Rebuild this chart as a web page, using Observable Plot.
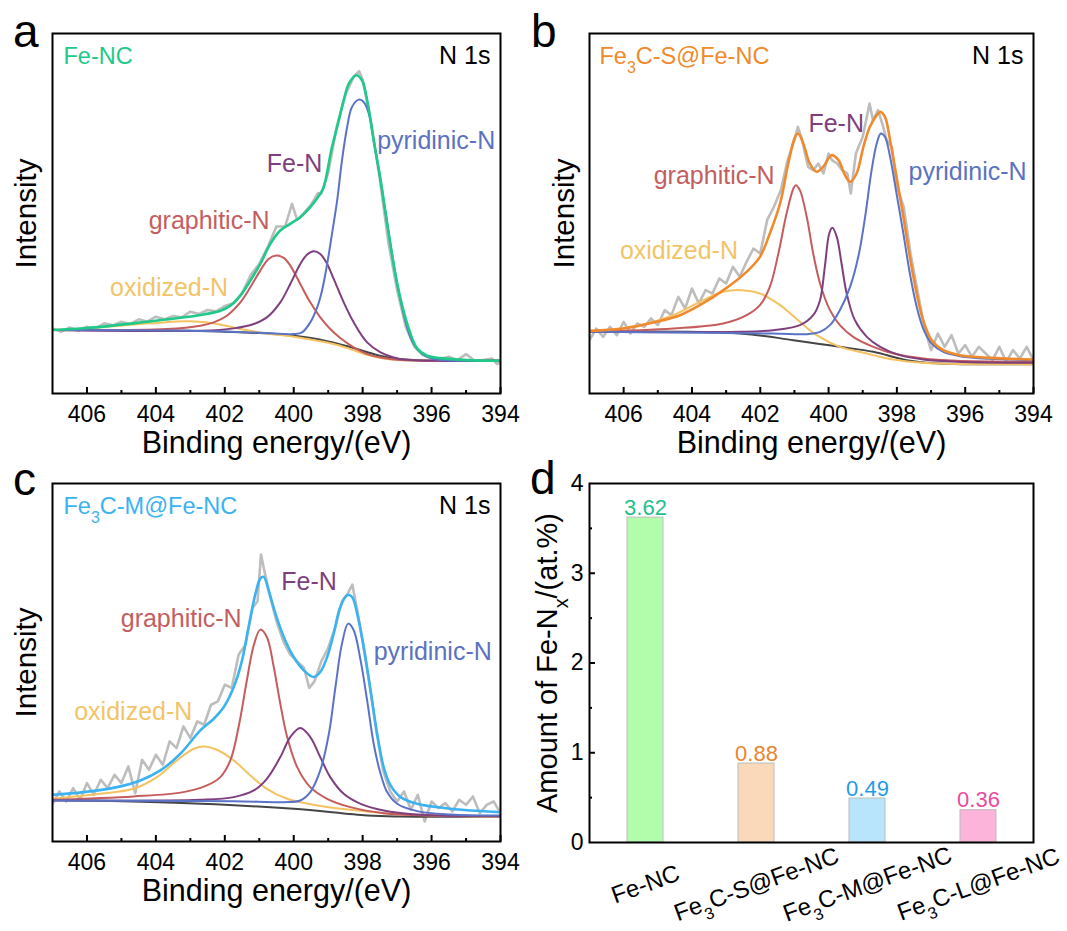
<!DOCTYPE html>
<html><head><meta charset="utf-8">
<script src="https://cdn.jsdelivr.net/npm/d3@7"></script>
<script src="https://cdn.jsdelivr.net/npm/@observablehq/plot@0.6"></script>
<style>
body{margin:0;background:#fff;}
#fig{position:relative;width:1067px;height:931px;overflow:hidden;font-family:"Liberation Sans",Arial,sans-serif;}
.panel{position:absolute;}
.letter{position:absolute;font-size:46px;line-height:46px;color:#000;}
</style></head><body>
<div id="fig"></div>
<script>
// ---------- data (binding energy eV, intensity a.u.) ----------
const xTicks = [406, 404, 402, 400, 398, 396, 394];
const xMinor = [405, 403, 401, 399, 397, 395];
const peakNames = ["pyridinic-N", "Fe-N", "graphitic-N", "oxidized-N"];
const sampleNames = ["Fe-NC", "Fe₃C-S@Fe-NC", "Fe₃C-M@Fe-NC", "Fe₃C-L@Fe-NC"];
const feNxAmount = [3.62, 0.88, 0.49, 0.36];
const dTicks = [0, 1, 2, 3, 4];

// panel a : Fe-NC
const aRaw = [[407,195],[406.75,185],[406.5,198],[406.25,188],[406,200],[405.75,194],[405.5,210],[405.25,204],[405,215],[404.75,208],[404.5,222],[404.25,215],[404,230],[403.75,222],[403.5,232],[403.25,228],[403,245],[402.75,238],[402.5,250],[402.25,246],[402,262],[401.75,270],[401.5,300],[401.25,355],[401,388],[400.75,440],[400.5,500],[400.25,500],[400.05,568],[399.9,520],[399.75,535],[399.5,565],[399.3,600],[399.2,598],[399,660],[398.75,800],[398.5,895],[398.25,950],[398.1,965],[398,940],[397.75,810],[397.5,640],[397.25,450],[397,310],[396.75,200],[396.5,140],[396.25,115],[396,108],[395.75,103],[395.5,110],[395.25,100],[395,118],[394.75,98],[394.5,100],[394.25,105],[394.1,88],[394,95]];
const aBg = [[407,190],[405,190],[403,188],[402,185],[401,181],[400,173],[399.5,166],[399,156],[398.5,143],[398,128],[397.5,113],[397,104],[396.5,100],[396,99],[394,98]];
const aOx = [[407,190],[405.62,198],[404.16,210],[403.05,216],[402.23,208],[401.55,193],[400.78,180],[400,170],[399.32,158],[398.84,148],[398.36,133],[397.87,116],[397.39,105],[396.9,100],[394,98]];
const aGr = [[407,190],[403.68,193],[402.71,203],[402.32,213],[401.94,233],[401.55,273],[401.26,318],[400.97,368],[400.73,403],[400.5,413],[400.29,406],[400.1,383],[399.81,328],[399.52,273],[399.23,228],[398.94,193],[398.65,166],[398.26,138],[397.87,118],[397.39,106],[396.9,100],[394,98]];
const aFeN = [[407,190],[402.71,188],[401.74,195],[401.16,208],[400.78,228],[400.39,273],[400.1,328],[399.81,388],[399.61,416],[399.42,426],[399.23,418],[399.03,388],[398.84,343],[398.55,273],[398.26,213],[397.87,153],[397.48,123],[397.1,108],[396.71,101],[394,98]];
const aPyr = [[407,190],[403,188],[401,182],[400,178],[399.76,183],[399.52,213],[399.32,258],[399.18,308],[399.03,388],[398.89,478],[398.74,578],[398.6,698],[398.45,798],[398.31,858],[398.11,880],[397.97,873],[397.82,838],[397.68,758],[397.53,668],[397.39,578],[397.24,478],[397.1,388],[396.9,278],[396.71,198],[396.52,148],[396.27,118],[395.94,103],[394.97,98],[394,98]];
const aEnv = [[407,190],[406,196],[404.65,210],[403.68,222],[402.71,235],[402.13,248],[401.84,263],[401.55,293],[401.26,338],[400.97,388],[400.68,448],[400.39,488],[400.1,508],[399.81,528],[399.52,558],[399.23,598],[399.13,618],[398.89,738],[398.74,798],[398.55,878],[398.4,928],[398.18,953],[398.02,938],[397.87,878],[397.68,758],[397.48,640],[397.29,510],[397,330],[396.71,210],[396.42,135],[396.13,113],[395.74,106],[394.97,100],[394,98]];

// panel b : Fe3C-S@Fe-NC
const bRaw = [[407,160],[406.8,195],[406.6,170],[406.4,200],[406.2,175],[406,215],[405.8,180],[405.6,210],[405.4,200],[405.2,225],[405,205],[404.8,250],[404.6,235],[404.4,290],[404.2,255],[404,315],[403.8,270],[403.6,310],[403.4,300],[403.2,345],[403,330],[402.8,380],[402.6,350],[402.4,395],[402.2,435],[402,420],[401.8,520],[401.6,560],[401.4,610],[401.2,700],[401,760],[400.9,800],[400.8,770],[400.6,680],[400.45,670],[400.3,690],[400.15,660],[400,720],[399.9,700],[399.75,690],[399.6,670],[399.45,660],[399.35,600],[399.2,720],[399,770],[398.9,820],[398.8,870],[398.7,820],[398.55,850],[398.4,800],[398.3,760],[398.15,740],[398,620],[397.8,560],[397.6,420],[397.4,310],[397.2,200],[397,130],[396.8,180],[396.6,140],[396.4,175],[396.2,120],[396,145],[395.8,110],[395.6,140],[395.4,120],[395.2,100],[395,140],[394.8,95],[394.6,130],[394.4,105],[394.2,140],[394,100]];
const bBg = [[407,185],[402.6,180],[401.03,160],[399.67,140],[398.69,125],[397.71,100],[396.74,90],[394,88]];
const bOx = [[407,185],[405.53,205],[404.55,235],[403.77,275],[403.08,305],[402.55,310],[402.01,300],[401.42,265],[400.84,215],[400.35,175],[399.67,140],[398.88,120],[398.1,102],[397.23,92],[395.76,88],[394,88]];
const bGr = [[407,185],[404.55,195],[403.08,210],[402.4,235],[402.01,265],[401.72,320],[401.47,420],[401.23,540],[401.03,615],[400.96,625],[400.84,610],[400.64,530],[400.45,420],[400.25,330],[399.96,250],[399.67,205],[399.28,170],[398.69,140],[398.1,120],[397.23,105],[396.25,98],[394,95]];
const bFeN = [[407,185],[402.6,185],[401.62,190],[400.84,205],[400.45,235],[400.25,280],[400.11,380],[399.98,480],[399.89,497],[399.76,470],[399.62,390],[399.47,300],[399.23,220],[398.88,170],[398.49,140],[397.91,115],[397.23,102],[396.25,95],[394,92]];
const bPyr = [[407,185],[401.62,180],[400.64,178],[400.25,185],[399.96,205],[399.67,250],[399.37,320],[399.13,410],[398.93,530],[398.74,670],[398.59,750],[398.47,780],[398.35,770],[398.2,710],[398.01,600],[397.81,480],[397.62,360],[397.42,260],[397.23,195],[396.98,150],[396.64,125],[396.15,112],[395.27,104],[394,100]];
const bEnv = [[407,188],[406.01,195],[405.04,215],[404.35,235],[403.77,265],[403.08,310],[402.4,365],[402.01,410],[401.72,480],[401.42,570],[401.18,690],[400.98,770],[400.89,780],[400.74,750],[400.55,690],[400.35,665],[400.16,680],[399.91,715],[399.71,700],[399.52,655],[399.37,635],[399.18,660],[398.98,740],[398.79,800],[398.59,835],[398.49,845],[398.35,830],[398.2,760],[398.01,650],[397.81,530],[397.62,410],[397.42,300],[397.23,220],[396.98,160],[396.64,130],[396.15,115],[395.27,107],[394,102]];

// panel c : Fe3C-M@Fe-NC
const cRaw = [[407,113],[406.8,150],[406.6,120],[406.4,160],[406.2,125],[406,175],[405.8,140],[405.6,185],[405.4,160],[405.2,200],[405,175],[404.8,225],[404.6,145],[404.4,245],[404.2,215],[404,260],[403.8,230],[403.6,300],[403.4,280],[403.2,345],[403,310],[402.8,360],[402.6,350],[402.4,410],[402.2,420],[402,470],[401.8,460],[401.6,560],[401.4,590],[401.2,700],[401.05,720],[400.95,860],[400.85,810],[400.7,740],[400.5,660],[400.3,600],[400.1,560],[399.9,540],[399.7,520],[399.55,460],[399.4,480],[399.2,540],[399,580],[398.8,640],[398.6,720],[398.45,740],[398.3,770],[398.15,690],[398,600],[397.8,470],[397.6,330],[397.4,210],[397.2,150],[397,120],[396.8,150],[396.6,95],[396.4,140],[396.2,60],[396,120],[395.8,100],[395.6,115],[395.4,90],[395.2,125],[395,110],[394.8,135],[394.6,85],[394.4,110],[394.2,120],[394,85]];
const cBg = [[407,125],[402.7,113],[400,98],[397.87,78],[396.9,75],[394,75]];
const cOx = [[407,128],[405.62,143],[404.65,158],[403.97,193],[403.39,243],[402.9,278],[402.61,285],[402.23,275],[401.74,243],[401.26,198],[400.78,158],[400.19,128],[399.32,108],[398.36,95],[397.39,85],[395.94,78],[394,75]];
const cGr = [[407,125],[404.65,135],[403.2,148],[402.52,168],[402.13,193],[401.84,243],[401.6,343],[401.36,483],[401.16,588],[400.97,635],[400.78,613],[400.58,523],[400.39,413],[400.19,313],[399.9,223],[399.52,163],[399.03,128],[398.36,103],[397.39,85],[395.94,78],[394,76]];
const cFeN = [[407,123],[402.71,125],[401.74,133],[401.16,153],[400.78,188],[400.39,253],[400.1,313],[399.81,340],[399.52,313],[399.23,253],[398.94,193],[398.55,143],[398.06,113],[397.39,93],[396.42,81],[394,76]];
const cPyr = [[407,123],[401.74,121],[400.29,118],[399.81,123],[399.52,148],[399.23,213],[398.98,323],[398.79,463],[398.6,593],[398.42,653],[398.26,633],[398.06,543],[397.87,423],[397.68,293],[397.48,203],[397.29,148],[397,113],[396.42,91],[395.45,81],[394,78]];
const cEnv = [[407,140],[406.1,148],[405.13,163],[404.45,183],[403.87,213],[403.29,263],[402.71,333],[402.32,368],[402.03,403],[401.74,463],[401.5,543],[401.31,643],[401.11,743],[400.97,788],[400.87,793],[400.73,753],[400.53,683],[400.29,613],[400,553],[399.71,513],[399.42,493],[399.23,508],[399.03,553],[398.84,623],[398.65,703],[398.45,738],[398.31,733],[398.16,683],[397.97,583],[397.77,453],[397.58,323],[397.39,223],[397.19,168],[396.9,133],[396.42,113],[395.45,98],[394,88]];

// ---------- styles ----------
const FONT = "Liberation Sans, Arial, sans-serif";
const C = {pyr: "#5a73c6", gr: "#c65c5c", fen: "#7f3f7f", ox: "#f5c262", bg: "#454545", raw: "#bdbdbd"};
const labelC = {pyr: "#5b72c0", gr: "#c45e5e", fen: "#7f3f7f", ox: "#f2c468"};
const sampleColors = ["#1ec98a", "#f08a2c", "#3bb3f0"];
const barFills = ["#b1fdab", "#fad9bb", "#b8e5fb", "#fdb4da"];
const valueColors = ["#1dbf8a", "#e8852f", "#1f9ce9", "#ea4b9d"];

const rows = arr => arr.map(([e, v]) => ({e, v}));

function subify(svg) {
  const NS = "http://www.w3.org/2000/svg";
  svg.querySelectorAll("text").forEach(t => {
    const targets = t.querySelector("tspan") ? Array.from(t.querySelectorAll("tspan")) : [t];
    targets.forEach(el => {
      const s = el.textContent;
      if (!/[₃ₓ]/.test(s)) return;
      el.textContent = "";
      s.split(/([₃ₓ])/).forEach(p => {
        if (!p) return;
        const ts = document.createElementNS(NS, "tspan");
        if (p === "₃" || p === "ₓ") {
          ts.textContent = p === "₃" ? "3" : "x";
          ts.setAttribute("baseline-shift", "sub");
          ts.setAttribute("font-size", "0.68em");
        } else ts.textContent = p;
        el.appendChild(ts);
      });
    });
  });
  return svg;
}

function spectrumPanel(p) {
  const fh = p.height - p.mT - p.mB;
  const line = (arr, stroke, w, curve = "catmull-rom") =>
    Plot.line(rows(arr), {x: "e", y: "v", stroke, strokeWidth: w, curve, clip: true});
  const lab = (i, pos, color) =>
    Plot.text([peakNames[i]], {x: () => pos[0], y: () => pos[1], textAnchor: "start", lineAnchor: "bottom", fontSize: 25, fill: color});
  return Plot.plot({
    width: p.width, height: p.height,
    marginLeft: p.mL, marginRight: p.mR, marginTop: p.mT, marginBottom: p.mB,
    style: {fontFamily: FONT, overflow: "visible", background: "transparent"},
    x: {domain: [407, 394]},
    y: {domain: [0, p.yMax], axis: null},
    marks: [
      line(p.raw, C.raw, 2.6, "linear"),
      line(p.bg, C.bg, 2),
      line(p.ox, C.ox, 2),
      line(p.gr, C.gr, 2),
      line(p.fen, C.fen, 2),
      line(p.pyr, C.pyr, 2),
      line(p.env, p.envColor, 2.6),
      Plot.frame({stroke: "#000", strokeWidth: 2}),
      Plot.ruleX(xTicks, {x: d => d, insetTop: fh - 6, stroke: "#000", strokeWidth: 2}),
      Plot.ruleX(xMinor, {x: d => d, insetTop: fh - 3, stroke: "#000", strokeWidth: 2}),
      Plot.axisX({ticks: xTicks, tickSize: 0, tickPadding: 12, fontSize: 23, label: null, tickFormat: d => String(d)}),
      Plot.text(["Binding energy/(eV)"], {frameAnchor: "bottom", dy: 59, textAnchor: "middle", lineAnchor: "bottom", fontSize: 30.5, fill: "#000"}),
      Plot.text(["Intensity"], {frameAnchor: "left", dx: p.intDx, rotate: -90, textAnchor: "middle", lineAnchor: "middle", fontSize: 29.5, fill: "#000"}),
      Plot.text([p.sample], {frameAnchor: "top-left", dx: p.sDx, dy: 30, textAnchor: "start", lineAnchor: "bottom", fontSize: 23.5, fill: p.envColor}),
      Plot.text(["N 1s"], {frameAnchor: "top-right", dx: -10, dy: 30, textAnchor: "end", lineAnchor: "bottom", fontSize: 25, fill: "#000"}),
      lab(0, p.lab[0], labelC.pyr),
      lab(1, p.lab[1], labelC.fen),
      lab(2, p.lab[2], labelC.gr),
      lab(3, p.lab[3], labelC.ox)
    ]
  });
}

const fig = document.getElementById("fig");
function place(svg, left, top) {
  const d = document.createElement("div");
  d.className = "panel";
  d.style.left = left + "px"; d.style.top = top + "px";
  d.appendChild(subify(svg));
  fig.appendChild(d);
}

place(spectrumPanel({
  width: 530, height: 460, mL: 52, mR: 30, mT: 33, mB: 67, yMax: 1078, intDx: -26, sDx: 11,
  raw: aRaw, bg: aBg, ox: aOx, gr: aGr, fen: aFeN, pyr: aPyr, env: aEnv,
  envColor: sampleColors[0], sample: sampleNames[0],
  lab: [[397.58, 733], [400.78, 663], [404.21, 493], [405.33, 293]]
}), 0, 0);

place(spectrumPanel({
  width: 527, height: 460, mL: 49, mR: 34, mT: 33, mB: 67, yMax: 1080, intDx: -25, sDx: 10,
  raw: bRaw, bg: bBg, ox: bOx, gr: bGr, fen: bFeN, pyr: bPyr, env: bEnv,
  envColor: sampleColors[1], sample: sampleNames[1],
  lab: [[397.66, 640], [400.59, 785], [405.12, 630], [406.11, 405]]
}), 540, 0);

place(spectrumPanel({
  width: 530, height: 471, mL: 52, mR: 30, mT: 23, mB: 90, yMax: 1073, intDx: -26, sDx: 11,
  raw: cRaw, bg: cBg, ox: cOx, gr: cGr, fen: cFeN, pyr: cPyr, env: cEnv,
  envColor: sampleColors[2], sample: sampleNames[2],
  lab: [[397.68, 545], [400.36, 753], [405.02, 643], [406.37, 363]]
}), 0, 460);

// panel d : bar chart
(function () {
  const W = 527, H = 471, mL = 49, mR = 34, mT = 23, mB = 89;
  const fw = W - mL - mR;
  const data = sampleNames.map((s, i) => ({s, v: feNxAmount[i]}));
  const svg = Plot.plot({
    width: W, height: H, marginLeft: mL, marginRight: mR, marginTop: mT, marginBottom: mB,
    style: {fontFamily: FONT, overflow: "visible", background: "transparent"},
    x: {domain: sampleNames, paddingInner: 0.676, paddingOuter: 0.338, axis: null},
    y: {domain: [0, 4], axis: null},
    color: {domain: sampleNames, range: barFills},
    marks: [
      Plot.barY(data, {x: "s", y: "v", fill: "s", stroke: "#bcbcbc", strokeWidth: 1}),
      ...data.map((d, i) => Plot.text([d], {x: "s", y: "v", text: r => r.v.toFixed(2), dy: -3, lineAnchor: "bottom", fontSize: 22, fill: valueColors[i]})),
      Plot.frame({stroke: "#000", strokeWidth: 2}),
      Plot.ruleY([1, 2, 3], {y: d => d, insetRight: fw - 6, stroke: "#000", strokeWidth: 2}),
      Plot.ruleY([0.5, 1.5, 2.5, 3.5], {y: d => d, insetRight: fw - 3, stroke: "#000", strokeWidth: 2}),
      Plot.axisY({ticks: dTicks, tickSize: 0, tickPadding: 6, fontSize: 23, label: null, tickFormat: d => String(d)}),
      Plot.text(sampleNames, {x: d => d, text: d => d, frameAnchor: "bottom", dy: 42, rotate: -20, textAnchor: "middle", lineAnchor: "middle", fontSize: 24, fill: "#000"}),
      Plot.text(["Amount of Fe-Nₓ/(at.%)"], {frameAnchor: "left", dx: -42, dy: 0, rotate: -90, textAnchor: "middle", lineAnchor: "middle", fontSize: 29, fill: "#000"})
    ]
  });
  place(svg, 540, 460);
})();

// panel letters
[["a", 13, 8], ["b", 531, 8], ["c", 13, 456], ["d", 530, 455]].forEach(([t, l, tp]) => {
  const d = document.createElement("div");
  d.className = "letter";
  d.textContent = t;
  d.style.left = l + "px"; d.style.top = tp + "px";
  fig.appendChild(d);
});
</script>
</body></html>
